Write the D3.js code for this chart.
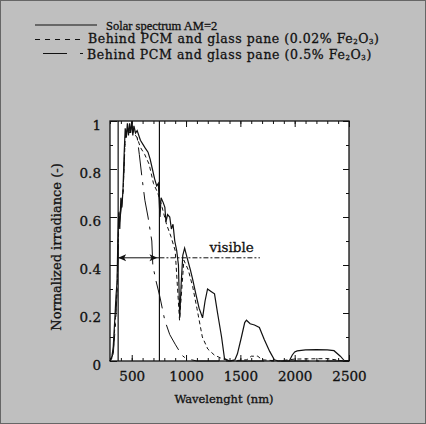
<!DOCTYPE html>
<html>
<head>
<meta charset="utf-8">
<script src="https://cdn.jsdelivr.net/npm/d3@7"></script>
<style>
  html, body { margin: 0; padding: 0; background: #bfbfbf; }
  svg { display: block; }
  text { fill: #111; stroke: #111; stroke-width: 0.3px; }
</style>
</head>
<body>
<svg id="chart" width="426" height="424"></svg>
<script>
// wavelength (nm) / normalized irradiance
const solar = [
  [300,0],[315,0.01],[330,0.06],[345,0.18],[355,0.27],[365,0.33],[372,0.5],[380,0.62],
  [390,0.55],[400,0.68],[410,0.64],[420,0.72],[430,0.86],[440,0.97],[450,0.93],[460,0.99],
  [470,0.94],[480,0.99],[490,0.95],[500,1.0],[510,0.94],[520,0.98],[535,0.95],[550,0.96],
  [580,0.92],[620,0.89],[650,0.87],[670,0.84],[690,0.8],[710,0.76],[730,0.73],[745,0.74],
  [760,0.6],[770,0.68],[790,0.66],[805,0.64],[815,0.58],[830,0.61],[850,0.6],[865,0.55],
  [880,0.57],[896,0.5],[914,0.46],[930,0.4],[942,0.18],[955,0.32],[970,0.44],[987,0.47],
  [1010,0.43],[1040,0.38],[1061,0.34],[1090,0.28],[1120,0.22],[1152,0.18],[1175,0.25],
  [1198,0.3],[1230,0.29],[1262,0.28],[1290,0.2],[1327,0.1],[1354,0.01],[1400,0],
  [1450,0.005],[1473,0.03],[1510,0.1],[1540,0.16],[1556,0.17],[1590,0.155],[1630,0.15],
  [1675,0.14],[1720,0.09],[1770,0.04],[1813,0.005],[1850,0],[1950,0],[1978,0.025],
  [2000,0.038],[2023,0.042],[2100,0.046],[2200,0.047],[2300,0.046],[2362,0.043],
  [2420,0.02],[2454,0.003],[2500,0]
];
const lowIron = [
  [300,0],[330,0.04],[350,0.18],[365,0.3],[380,0.58],[400,0.64],[420,0.7],[440,0.93],
  [460,0.96],[480,0.96],[500,0.97],[520,0.95],[550,0.93],[580,0.89],[620,0.86],[660,0.82],
  [700,0.74],[740,0.7],[780,0.64],[820,0.57],[860,0.52],[900,0.46],[940,0.17],[980,0.42],
  [1020,0.38],[1061,0.31],[1100,0.22],[1150,0.1],[1200,0.05],[1260,0.025],[1330,0.01],
  [1400,0],[1560,0.005],[1600,0.02],[1660,0.02],[1700,0.005],[1850,0],[2000,0.008],
  [2300,0.01],[2450,0],[2500,0]
];
const highIron = [
  [300,0],[330,0.03],[350,0.15],[365,0.28],[380,0.55],[400,0.62],[420,0.7],[440,0.92],
  [460,0.97],[480,0.95],[500,0.98],[520,0.96],[548,0.94],[570,0.86],[593,0.77],[621,0.67],
  [650,0.6],[685,0.5],[694,0.4],[720,0.34],[758,0.27],[804,0.17],[850,0.11],[900,0.07],
  [960,0.025],[1000,0.01],[1100,0],[2500,0]
];
const visibleRange = [375, 755];
const visibleLevel = 0.43;
const xTicks = [500, 1000, 1500, 2000, 2500];
const yTicks = [0, 0.2, 0.4, 0.6, 0.8, 1];
const legendLabels = ["Solar spectrum AM=2",
  "Behind PCM and glass pane (0.02% Fe|2|O|3|)",
  "Behind PCM and glass pane (0.5% Fe|2|O|3|)"];

const svg = d3.select("#chart");
const serif = "'DejaVu Serif', serif";

svg.append("rect").attr("x", 0.5).attr("y", 0.5).attr("width", 425).attr("height", 423)
  .attr("fill", "#bfbfbf").attr("stroke", "#666");

const x = d3.scaleLinear().domain([300, 2500]).range([110, 349]);
const y = d3.scaleLinear().domain([0, 1]).range([361, 121]);

svg.append("rect").attr("x", 110).attr("y", 121).attr("width", 239).attr("height", 240)
  .attr("fill", "#fff");

const line = d3.line().x(d => x(d[0])).y(d => y(d[1]));
const plot = svg.append("g").attr("fill", "none").attr("stroke", "#111");

plot.append("path").datum(solar).attr("d", line).attr("stroke-width", 1.2);
plot.append("path").datum(lowIron).attr("d", line).attr("stroke-width", 1)
  .attr("stroke-dasharray", "4,3");
plot.append("path").datum(highIron).attr("d", line).attr("stroke-width", 1)
  .attr("stroke-dasharray", "28,7,3,7");

// visible band markers
plot.selectAll("line.vis").data(visibleRange).join("line").attr("class", "vis")
  .attr("x1", d => x(d)).attr("x2", d => x(d))
  .attr("y1", y(0)).attr("y2", y(1)).attr("stroke-width", 1.2);

const ay = y(visibleLevel);
const ax0 = x(visibleRange[0]), ax1 = x(visibleRange[1]);
plot.append("line").attr("x1", ax0).attr("x2", ax1).attr("y1", ay).attr("y2", ay);
plot.append("line").attr("x1", ax1).attr("x2", x(1680)).attr("y1", ay).attr("y2", ay)
  .attr("stroke-dasharray", "5,2,2,2");
svg.append("path").attr("fill", "#111")
  .attr("d", `M${ax0},${ay}l8,-3.5l-2,3.5l2,3.5Z M${ax1 - 2},${ay}l-8,-3.5l2,3.5l-2,3.5Z`);
svg.append("text").attr("x", x(1420)).attr("y", 252).attr("text-anchor", "middle")
  .style("font-family", serif).style("font-size", "13.5px").text("visible");

// ticks on all four sides, pointing inward
const minorX = d3.range(300, 2501, 100);
const minorY = d3.range(0, 1.001, 0.1);
const addAxis = (axis, tx, ty) => svg.append("g")
  .attr("transform", `translate(${tx},${ty})`).call(axis)
  .call(g => g.select(".domain").remove())
  .call(g => g.selectAll("line").attr("stroke", "#111"));

addAxis(d3.axisBottom(x).tickValues(minorX).tickSize(-3).tickFormat(""), 0, y(0));
addAxis(d3.axisTop(x).tickValues(minorX).tickSize(-3).tickFormat(""), 0, y(1));
addAxis(d3.axisLeft(y).tickValues(minorY).tickSize(-3).tickFormat(""), x(300), 0);
addAxis(d3.axisRight(y).tickValues(minorY).tickSize(-3).tickFormat(""), x(2500), 0);

addAxis(d3.axisTop(x).tickValues(xTicks).tickSize(-6).tickFormat(""), 0, y(1));
addAxis(d3.axisRight(y).tickValues(yTicks).tickSize(-6).tickFormat(""), x(2500), 0);
addAxis(d3.axisBottom(x).tickValues(xTicks).tickSize(-6).tickPadding(10).tickFormat(d3.format("d")), 0, y(0))
  .selectAll("text").style("font-family", serif).style("font-size", "13.5px").attr("fill", "#111");
addAxis(d3.axisLeft(y).tickValues(yTicks).tickSize(-7).tickPadding(9).tickFormat(d3.format("")), x(300), 0)
  .selectAll("text").style("font-family", serif).style("font-size", "13.5px")
  .attr("fill", "#111").attr("dy", "0.6em");

svg.append("rect").attr("x", 110).attr("y", 121).attr("width", 239).attr("height", 240)
  .attr("fill", "none").attr("stroke", "#111").attr("stroke-width", 1.3);

svg.append("text").attr("x", 224).attr("y", 403).attr("text-anchor", "middle")
  .style("font-family", serif).style("font-size", "11.5px").text("Wavelenght (nm)");
svg.append("text").attr("transform", "translate(61,247) rotate(-90)")
  .attr("text-anchor", "middle").style("font-family", serif).style("font-size", "13px")
  .text("Normalized irradiance (-)");

// legend
const legend = svg.append("g");
legend.append("line").attr("x1", 35).attr("x2", 97).attr("y1", 25).attr("y2", 25)
  .attr("stroke", "#111").attr("stroke-width", 1.2);
legend.append("line").attr("x1", 35).attr("x2", 84).attr("y1", 39.5).attr("y2", 39.5)
  .attr("stroke", "#111").attr("stroke-dasharray", "5,5");
legend.append("line").attr("x1", 43).attr("x2", 83).attr("y1", 53.5).attr("y2", 53.5)
  .attr("stroke", "#111").attr("stroke-dasharray", "24,13,3,40");

const rows = [
  {x: 106, y: 29.5, size: 12.5, ls: 0, font: "'Liberation Serif', serif"},
  {x: 88, y: 43, size: 12.5, ls: 0.55, font: serif},
  {x: 87, y: 58.5, size: 12.5, ls: 0.6, font: serif}
];
legendLabels.forEach((label, i) => {
  const r = rows[i];
  const t = legend.append("text").attr("x", r.x).attr("y", r.y)
    .style("font-family", r.font).style("font-size", r.size + "px")
    .style("letter-spacing", r.ls + "px");
  label.split("|").forEach((part, j) => {
    const s = t.append("tspan").text(part);
    if (j % 2 == 1) s.attr("dy", 1).style("font-size", "7px");
    else if (j > 0) s.attr("dy", -1);
  });
});
</script>
</body>
</html>
